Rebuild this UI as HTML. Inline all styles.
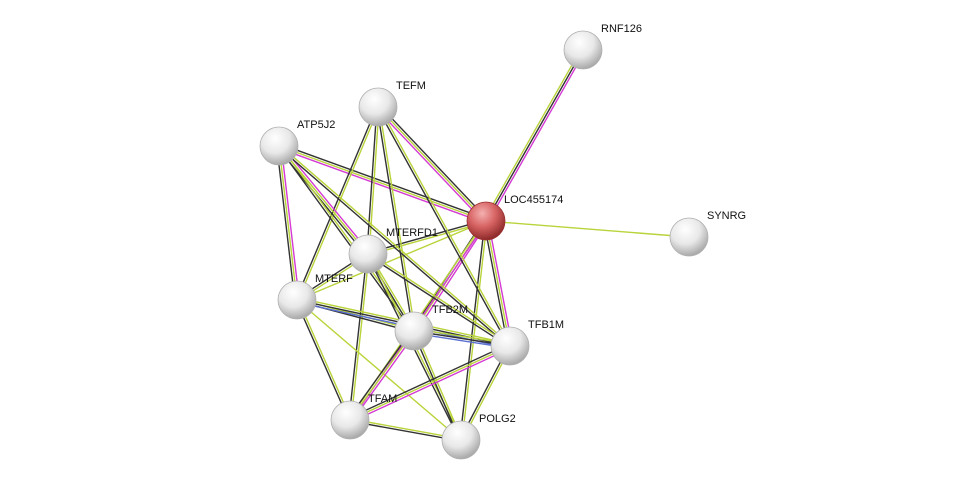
<!DOCTYPE html>
<html><head><meta charset="utf-8"><style>
html,body{margin:0;padding:0;background:#fff;width:976px;height:486px;overflow:hidden}
svg{display:block}
text{font-family:"Liberation Sans",Arial,sans-serif;font-size:11px;fill:#111}
</style></head><body>
<svg id="s" width="976" height="486" xmlns="http://www.w3.org/2000/svg">
<defs>
<radialGradient id="g" cx="40%" cy="30%" r="70%">
<stop offset="0" stop-color="#ffffff"/><stop offset="0.55" stop-color="#e8e8e8"/><stop offset="1" stop-color="#a9a9a9"/>
</radialGradient>
<radialGradient id="r" cx="40%" cy="30%" r="70%">
<stop offset="0" stop-color="#f4b0b0"/><stop offset="0.5" stop-color="#d86464"/><stop offset="1" stop-color="#8e2a2a"/>
</radialGradient>
</defs>
<g id="edges"></g><g id="nodes"></g>
</svg>
<script>
var N={RNF126:[583,50],TEFM:[378,107],ATP5J2:[279,146],LOC455174:[486,221],SYNRG:[689,237],MTERFD1:[368,254],MTERF:[297,300],TFB2M:[414,331],TFB1M:[510,346],TFAM:[350,420],POLG2:[461,440]};
var Y="#b8d43a",K="#333",M="#d43ad4",B="#5a6fd0";
var E=[["LOC455174","RNF126",[Y,K,M]],["LOC455174","SYNRG",[Y]],["LOC455174","TEFM",[M,Y,K]],["LOC455174","ATP5J2",[M,Y,K]],
["LOC455174","MTERFD1",[Y,K]],["LOC455174","MTERF",[Y]],["LOC455174","TFB2M",[M,Y,K]],["LOC455174","TFB1M",[M,Y,K]],
["LOC455174","TFAM",[M,Y]],["LOC455174","POLG2",[Y,K]],["TEFM","MTERFD1",[Y,K]],["TEFM","MTERF",[Y,K]],["TEFM","TFB2M",[Y,K]],
["TEFM","TFB1M",[Y,K]],["ATP5J2","MTERF",[M,Y,K]],["ATP5J2","MTERFD1",[M,Y,K]],["ATP5J2","TFB2M",[Y,K]],["ATP5J2","TFB1M",[Y,K]],
["MTERFD1","MTERF",[Y,K]],["MTERFD1","TFB2M",[Y,K]],["MTERFD1","TFB1M",[Y,K]],["MTERFD1","TFAM",[Y,K]],["MTERFD1","POLG2",[Y,K]],
["MTERF","TFB2M",[Y,K]],["MTERF","TFB1M",[Y,K,B]],["MTERF","TFAM",[Y,K]],["MTERF","POLG2",[Y]],["TFB2M","TFB1M",[Y,K,B]],
["TFB2M","TFAM",[M,Y,K]],["TFB2M","POLG2",[Y,K]],["TFB1M","TFAM",[M,Y,K]],["TFB1M","POLG2",[Y,K]],["TFAM","POLG2",[Y,K]]];
var ns="http://www.w3.org/2000/svg",eg=document.getElementById("edges"),ng=document.getElementById("nodes");
E.forEach(function(e){var a=N[e[0]],b=N[e[1]],dx=b[0]-a[0],dy=b[1]-a[1],l=Math.hypot(dx,dy),px=-dy/l,py=dx/l,n=e[2].length;
e[2].forEach(function(c,i){var o=(i-(n-1)/2)*2.2,L=document.createElementNS(ns,"line");
L.setAttribute("x1",a[0]+px*o);L.setAttribute("y1",a[1]+py*o);L.setAttribute("x2",b[0]+px*o);L.setAttribute("y2",b[1]+py*o);
L.setAttribute("stroke",c);L.setAttribute("stroke-width","1.4");eg.appendChild(L);});});
for(var k in N){var p=N[k],C=document.createElementNS(ns,"circle");C.setAttribute("cx",p[0]);C.setAttribute("cy",p[1]);C.setAttribute("r",19);
C.setAttribute("fill",k=="LOC455174"?"url(#r)":"url(#g)");C.setAttribute("stroke",k=="LOC455174"?"#9a3030":"#b0b0b0");C.setAttribute("stroke-width","0.8");ng.appendChild(C);
var T=document.createElementNS(ns,"text");T.setAttribute("x",p[0]+18);T.setAttribute("y",p[1]-18);T.textContent=k;ng.appendChild(T);}
</script>
</body></html>
